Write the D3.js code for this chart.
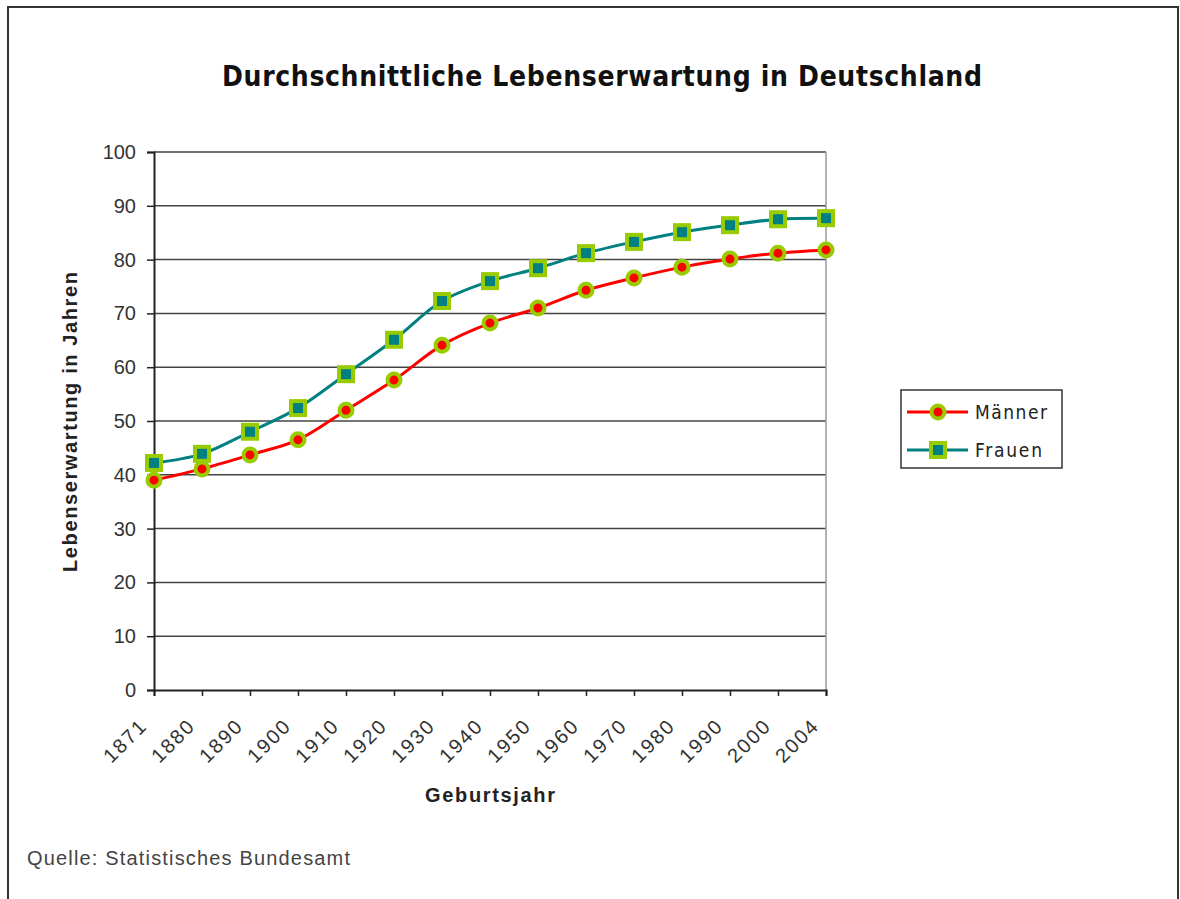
<!DOCTYPE html>
<html><head><meta charset="utf-8">
<script src="https://cdn.jsdelivr.net/npm/d3@7"></script>
<style>body{margin:0;background:#fff}svg{display:block}</style>
</head><body>
<script>
const years = ["1871","1880","1890","1900","1910","1920","1930","1940","1950","1960","1970","1980","1990","2000","2004"];
const maenner = [39.0,41.1,43.7,46.5,52.0,57.6,64.1,68.2,71.0,74.3,76.6,78.6,80.1,81.2,81.8];
const frauen = [42.2,43.9,48.0,52.4,58.7,65.1,72.3,76.0,78.4,81.2,83.3,85.1,86.4,87.5,87.7];
const yTicks = [0,10,20,30,40,50,60,70,80,90,100];
const seriesNames = ["Männer","Frauen"];

const W=1180,H=899;
const svg=d3.select("body").append("svg").attr("width",W).attr("height",H);
svg.append("rect").attr("x",8).attr("y",7).attr("width",1170).attr("height",900).attr("fill","#fff").attr("stroke","#333").attr("stroke-width",2);

const L=154,R=826,T=152,B=690;
const x=d3.scalePoint().domain(years).range([L,R]);
const y=d3.scaleLinear().domain([0,100]).range([B,T]);

svg.append("text").attr("x",222).attr("y",86)
 .attr("font-family","DejaVu Sans").style("font-stretch","condensed").attr("font-weight","bold").attr("font-size",28)
 .attr("textLength",760).attr("lengthAdjust","spacing")
 .attr("fill","#111").text("Durchschnittliche Lebenserwartung in Deutschland");

// gridlines
svg.append("g").selectAll("line").data(yTicks.filter(d=>d>0)).join("line")
 .attr("x1",L).attr("x2",R).attr("y1",d=>y(d)).attr("y2",d=>y(d)).attr("stroke","#444").attr("stroke-width",1.5);
// right border of plot
svg.append("line").attr("x1",R).attr("x2",R).attr("y1",T).attr("y2",B).attr("stroke","#999").attr("stroke-width",1.5);

const yAxis=svg.append("g").attr("transform",`translate(${L},0)`)
 .call(d3.axisLeft(y).tickValues(yTicks).tickSize(7).tickPadding(11));
yAxis.select(".domain").attr("stroke","#222").attr("stroke-width",2);
yAxis.selectAll(".tick line").attr("stroke","#222").attr("stroke-width",1.5);
yAxis.selectAll(".tick text").attr("font-family","Liberation Sans, Arial").attr("font-size",20).attr("fill","#333");

const xAxis=svg.append("g").attr("transform",`translate(0,${B})`)
 .call(d3.axisBottom(x).tickSize(6).tickPadding(0));
xAxis.select(".domain").attr("stroke","#222").attr("stroke-width",2);
xAxis.selectAll(".tick line").attr("stroke","#222").attr("stroke-width",1.5);
xAxis.selectAll(".tick text").attr("font-family","Liberation Sans, Arial").attr("font-size",20).attr("fill","#333")
 .attr("letter-spacing",2)
 .attr("text-anchor","end").attr("y",0).attr("dy","0").attr("transform","translate(-6,37) rotate(-45)");

svg.append("text").attr("x",425).attr("y",802)
 .attr("font-family","Liberation Sans, Arial").attr("font-weight","bold").attr("font-size",20)
 .attr("textLength",130).attr("lengthAdjust","spacing").attr("fill","#222").text("Geburtsjahr");
svg.append("text").attr("transform","translate(77,572) rotate(-90)")
 .attr("font-family","Liberation Sans, Arial").attr("font-weight","bold").attr("font-size",20)
 .attr("textLength",300).attr("lengthAdjust","spacing").attr("fill","#222").text("Lebenserwartung in Jahren");

const line=d3.line().x((d,i)=>x(years[i])).y(d=>y(d)).curve(d3.curveCatmullRom.alpha(0.5));
svg.append("path").datum(frauen).attr("d",line).attr("fill","none").attr("stroke","#008080").attr("stroke-width",3);
svg.append("path").datum(maenner).attr("d",line).attr("fill","none").attr("stroke","#ff0000").attr("stroke-width",3);

svg.append("g").selectAll("circle").data(maenner).join("circle")
 .attr("cx",(d,i)=>x(years[i])).attr("cy",d=>y(d)).attr("r",6.5).attr("fill","#ff0000").attr("stroke","#99cc00").attr("stroke-width",4);
svg.append("g").selectAll("rect").data(frauen).join("rect")
 .attr("x",(d,i)=>x(years[i])-7).attr("y",d=>y(d)-7).attr("width",14).attr("height",14).attr("fill","#008080").attr("stroke","#99cc00").attr("stroke-width",4);

// legend
const lg=svg.append("g");
lg.append("rect").attr("x",901).attr("y",390).attr("width",161).attr("height",78).attr("fill","#fff").attr("stroke","#333").attr("stroke-width",1.5);
const legY=[412,450];
const legW=[72,67];
seriesNames.forEach((n,i)=>{
  const c=i===0?"#ff0000":"#008080";
  lg.append("line").attr("x1",907).attr("x2",968).attr("y1",legY[i]).attr("y2",legY[i]).attr("stroke",c).attr("stroke-width",3);
  if(i===0) lg.append("circle").attr("cx",938).attr("cy",legY[i]).attr("r",6.5).attr("fill",c).attr("stroke","#99cc00").attr("stroke-width",4);
  else lg.append("rect").attr("x",931).attr("y",legY[i]-7).attr("width",14).attr("height",14).attr("fill",c).attr("stroke","#99cc00").attr("stroke-width",4);
  lg.append("text").attr("x",975).attr("y",legY[i]+7).attr("font-family","DejaVu Sans").style("font-stretch","condensed").attr("font-size",19)
   .attr("textLength",legW[i]).attr("lengthAdjust","spacing").attr("fill","#222").text(n);
});

svg.append("text").attr("x",27).attr("y",865).attr("font-family","Liberation Sans, Arial").attr("font-size",20).attr("fill","#444")
 .attr("textLength",323).attr("lengthAdjust","spacing")
 .text("Quelle: Statistisches Bundesamt");
</script>
</body></html>
